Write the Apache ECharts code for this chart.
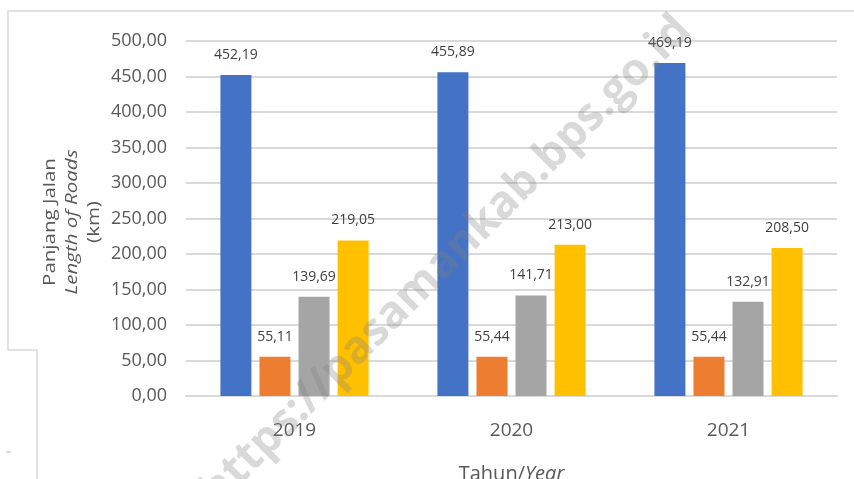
<!DOCTYPE html>
<html>
<head>
<meta charset="utf-8">
<script src="https://cdn.jsdelivr.net/npm/echarts@6/dist/echarts.min.js"></script>
<style>
html,body{margin:0;padding:0;background:#fff;}
#chart{width:854px;height:479px;}
</style>
</head>
<body>
<div id="chart"></div>
<script>
const categories = ['2019', '2020', '2021'];
const series1 = [452.19, 455.89, 469.19];
const series2 = [55.11, 55.44, 55.44];
const series3 = [139.69, 141.71, 132.91];
const series4 = [219.05, 213.00, 208.50];
const seriesNames = ['Seri 1', 'Seri 2', 'Seri 3', 'Seri 4'];
const colors = ['#4472C4', '#ED7D31', '#A5A5A5', '#FFC000'];
const yTicks = { min: 0, max: 500, interval: 50 };
const yTitle = ['Panjang Jalan', 'Length of Roads', '(km)'];
const xTitle = ['Tahun/', 'Year'];
const watermark = 'https://pasamankab.bps.go.id';

const FONT = '"Open Sans", sans-serif';
const fmt = v => Number(v).toFixed(2).replace('.', ',');

const chart = echarts.init(document.getElementById('chart'), null, { renderer: 'canvas' });

function bar(name, data, color) {
  return {
    name: name,
    type: 'bar',
    data: data,
    barWidth: 31,
    barGap: '26%',
    itemStyle: { color: color },
    label: {
      show: true,
      position: 'top',
      distance: 13,
      color: '#404040',
      fontFamily: FONT,
      fontSize: 14,
      formatter: p => fmt(p.value)
    }
  };
}

const lineColor = '#d9d9d9';

chart.setOption({
  animation: false,
  backgroundColor: '#ffffff',
  grid: { left: 186, right: 17, top: 41, bottom: 83, containLabel: false, outerBoundsMode: 'none' },
  xAxis: {
    type: 'category',
    data: categories,
    axisTick: { show: false },
    axisLine: { lineStyle: { color: lineColor, width: 2 } },
    axisLabel: { color: '#595959', fontFamily: FONT, fontSize: 19, margin: 25 },
    name: '{a|' + xTitle[0] + '}{b|' + xTitle[1] + '}',
    nameLocation: 'middle',
    nameGap: 68,
    nameTextStyle: {
      rich: {
        a: { color: '#595959', fontFamily: FONT, fontSize: 20 },
        b: { color: '#595959', fontFamily: FONT, fontSize: 20, fontStyle: 'italic' }
      }
    }
  },
  yAxis: {
    type: 'value',
    min: yTicks.min,
    max: yTicks.max,
    interval: yTicks.interval,
    axisLine: { show: false },
    axisTick: { show: false },
    splitLine: { lineStyle: { color: lineColor, width: 2 } },
    axisLabel: { color: '#595959', fontFamily: FONT, fontSize: 18, margin: 19, formatter: v => fmt(v) }
  },
  series: [
    bar(seriesNames[0], series1, colors[0]),
    bar(seriesNames[1], series2, colors[1]),
    bar(seriesNames[2], series3, colors[2]),
    bar(seriesNames[3], series4, colors[3])
  ],
  graphic: [
    { type: 'polyline', silent: true, shape: { points: [[854, 11], [8, 11], [8, 350], [37, 350], [37, 479]] },
      style: { stroke: '#d9d9d9', lineWidth: 1.5, fill: null } },
    { type: 'line', silent: true, shape: { x1: 6, y1: 452, x2: 11, y2: 452 }, style: { stroke: '#bfbfbf', lineWidth: 1 } },
    {
      type: 'text', silent: true,
      x: 72, y: 222, rotation: Math.PI / 2, scaleX: 1.28, scaleY: 1,
      style: {
        text: '{a|' + yTitle[0] + '}\n{b|' + yTitle[1] + '}\n{a|' + yTitle[2] + '}',
        x: 0, y: 0, align: 'center', verticalAlign: 'middle',
        rich: {
          a: { fill: '#595959', fontFamily: FONT, fontSize: 16, lineHeight: 22, align: 'center' },
          b: { fill: '#595959', fontFamily: FONT, fontSize: 16, lineHeight: 22, fontStyle: 'italic', align: 'center' }
        }
      }
    },
    {
      type: 'text', silent: true, z: 100,
      x: 446, y: 261, rotation: 45 * Math.PI / 180,
      style: {
        text: watermark, x: 0, y: 0, align: 'center', verticalAlign: 'middle',
        fontFamily: FONT, fontWeight: 'bold', fontSize: 45,
        fill: 'rgba(128,128,128,0.3)'
      }
    }
  ]
});
</script>
</body>
</html>
